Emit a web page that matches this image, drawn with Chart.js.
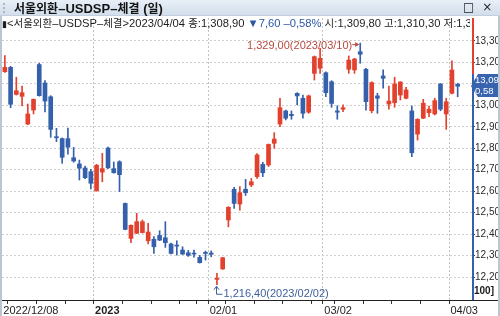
<!DOCTYPE html>
<html><head><meta charset="utf-8">
<script src="https://cdn.jsdelivr.net/npm/chart.js@4.4.0/dist/chart.umd.min.js"></script>
<style>
html,body{margin:0;padding:0;background:#fff;}
#wrap{position:relative;width:500px;height:316px;overflow:hidden;background:#fff;}
#c{position:absolute;left:0;top:0;}
#titlebar{position:absolute;left:0;top:0;width:500px;height:16px;background:linear-gradient(#e8eff7,#d2deeb);border-bottom:1px solid #c3cfdd;box-sizing:border-box;}
#grip{position:absolute;left:3px;top:3px;width:0;height:10px;border-left:2px dotted #aab6c6;}
#title{position:absolute;left:14px;top:0px;font:bold 13px "Liberation Sans",sans-serif;color:#141414;line-height:15px;white-space:nowrap;}
#icons{position:absolute;left:463px;top:0px;font:12px "DejaVu Sans",sans-serif;color:#222;line-height:15px;word-spacing:4px;}
.k{font-family:"Noto Sans CJK KR";font-size:10.5px;}
#title .k{font-size:12px;font-weight:bold;}
#hdr{position:absolute;left:2px;top:17px;width:468px;height:13px;overflow:hidden;white-space:nowrap;font:11.2px "Liberation Sans",sans-serif;line-height:12px;color:#1e1e1e;}
#hdr .b{color:#2b56a6;}
#hdr .bar{font-size:9px;}
#lb{position:absolute;left:0;top:16px;width:2px;height:300px;background:#bcc6d2;}
#rb{position:absolute;left:498px;top:16px;width:2px;height:300px;background:#bcc6d2;}
</style>
</head><body>
<div id="wrap">
<canvas id="c" width="500" height="316"></canvas>
<div id="titlebar"><div id="grip"></div><div id="title"><span class="k">서울외환</span>–USDSP–<span class="k">체결</span> (<span class="k">일</span>)</div><div id="icons">□ ×</div></div>
<div id="hdr"><span class="bar">▮</span>&lt;<span class="k">서울외환</span>–USDSP–<span class="k">체결</span>&gt;2023/04/04 <span class="k">종</span>:1,308,90 <span class="b">▼7,60 –0,58%</span> <span class="k">시</span>:1,309,80 <span class="k">고</span>:1,310,30 <span class="k">저</span>:1,304,00</div>
<div id="lb"></div><div id="rb"></div>
</div>
<script>
const dates = [
'2022/12/09','2022/12/12','2022/12/13','2022/12/14','2022/12/15','2022/12/16','2022/12/19','2022/12/20','2022/12/21','2022/12/22','2022/12/23','2022/12/26','2022/12/27','2022/12/28','2022/12/29','2022/12/30',
'2023/01/02','2023/01/03','2023/01/04','2023/01/05','2023/01/06','2023/01/09','2023/01/10','2023/01/11','2023/01/12','2023/01/13','2023/01/16','2023/01/17','2023/01/18','2023/01/19','2023/01/20','2023/01/25','2023/01/26','2023/01/27','2023/01/30','2023/01/31',
'2023/02/01','2023/02/02','2023/02/03','2023/02/06','2023/02/07','2023/02/08','2023/02/09','2023/02/10','2023/02/13','2023/02/14','2023/02/15','2023/02/16','2023/02/17','2023/02/20','2023/02/21','2023/02/22','2023/02/23','2023/02/24','2023/02/27','2023/02/28',
'2023/03/02','2023/03/03','2023/03/06','2023/03/07','2023/03/08','2023/03/09','2023/03/10','2023/03/13','2023/03/14','2023/03/15','2023/03/16','2023/03/17','2023/03/20','2023/03/21','2023/03/22','2023/03/23','2023/03/24','2023/03/27','2023/03/28','2023/03/29','2023/03/30','2023/03/31',
'2023/04/03','2023/04/04'];

const opens = [1315.7,1317.7,1305.1,1304.2,1291.3,1297.8,1319.0,1310.4,1304.0,1285.4,
1284.5,1284.5,1275.6,1272.7,1270.8,1269.1,1260.2,1268.9,1280.1,1270.5,
1273.7,1254.3,1238.0,1240.4,1240.7,1236.9,1237.6,1239.4,1238.3,1235.4,
1234.9,1232.6,1231.3,1231.0,1229.2,1231.5,1231.2,1218.9,1223.8,1246.6,
1260.9,1254.0,1260.9,1262.9,1266.8,1272.5,1272.2,1282.3,1291.3,1297.4,
1295.8,1305.6,1303.3,1296.8,1314.9,1317.3,1315.2,1311.0,1297.4,1298.2,
1316.8,1316.5,1325.0,1316.8,1297.5,1304.4,1313.7,1300.6,1301.2,1304.8,
1303.3,1297.4,1286.6,1294.0,1296.6,1296.0,1309.9,1296.0,1305.6,1309.8];

const highs = [1323.2,1318.2,1313.1,1309.0,1300.6,1303.0,1319.6,1311.5,1304.5,1289.3,
1284.8,1289.4,1280.4,1274.5,1271.7,1270.2,1272.5,1277.6,1280.5,1273.6,
1274.2,1254.5,1244.3,1249.7,1246.6,1245.0,1238.8,1241.6,1245.8,1235.8,
1236.9,1234.1,1232.4,1232.6,1230.1,1232.1,1232.2,1221.7,1229.2,1252.8,
1261.8,1262.1,1265.5,1266.0,1277.5,1273.5,1282.0,1287.3,1303.3,1297.8,
1297.4,1305.9,1304.8,1304.8,1323.0,1326.6,1315.6,1311.5,1299.8,1300.2,
1323.0,1321.9,1329.0,1317.3,1311.0,1305.6,1316.5,1309.0,1313.1,1311.0,
1308.4,1299.7,1293.8,1302.8,1299.7,1303.3,1310.2,1303.3,1320.8,1310.3];

const lows = [1315.3,1298.9,1304.8,1299.7,1291.0,1296.0,1304.3,1296.9,1285.1,1283.1,
1273.0,1277.3,1273.5,1265.2,1265.8,1261.1,1260.0,1264.4,1270.5,1268.4,
1259.8,1242.0,1236.0,1240.2,1240.5,1235.4,1231.0,1237.0,1233.8,1230.8,
1230.2,1230.5,1229.6,1229.2,1226.5,1227.9,1229.4,1216.4,1223.5,1243.4,
1252.0,1251.2,1258.0,1262.1,1266.0,1266.8,1271.5,1280.0,1290.1,1293.2,
1293.5,1300.2,1294.0,1296.3,1311.8,1314.9,1304.0,1299.1,1293.5,1297.0,
1314.9,1314.9,1319.6,1297.8,1296.5,1296.3,1308.0,1298.2,1299.1,1302.5,
1303.0,1276.1,1283.8,1293.8,1294.7,1295.5,1297.5,1288.8,1305.3,1304.0];

const closes = [1317.7,1300.5,1306.8,1305.9,1296.0,1302.8,1304.5,1302.0,1288.8,1284.9,
1275.8,1280.5,1274.1,1270.7,1266.3,1263.7,1272.1,1270.5,1270.9,1268.6,
1267.7,1242.2,1244.1,1245.8,1245.8,1241.0,1234.1,1237.2,1236.0,1231.0,
1234.4,1230.7,1230.1,1230.7,1226.7,1231.0,1230.6,1219.4,1229.0,1252.5,
1254.3,1259.3,1259.3,1264.4,1276.9,1268.6,1281.8,1284.3,1298.9,1294.0,
1295.2,1304.4,1296.3,1304.4,1322.7,1321.9,1305.9,1300.9,1296.8,1298.9,
1321.1,1321.6,1323.8,1301.7,1310.6,1303.3,1312.6,1302.0,1310.0,1310.9,
1307.2,1277.9,1293.5,1301.0,1298.2,1302.2,1298.2,1301.7,1316.5,1308.9];

const xTickIdx  = [0, 16, 36, 56, 78];
const xTickText = ['2022/12/08', '2023', '02/01', '03/02', '04/03'];
const weekStartIdx = [1,6,11,16,21,26,31,34,39,44,49,54,58,63,68,73,78];
const emptySlots = ['', ''];
const yMin = 1209.3, yMax = 1340.7, yStep = 10, yShowMin = 1220, yShowMax = 1330;

const UP = '#e2412e', DOWN = '#3560ab';
const colors = closes.map((c,i) => c >= opens[i] ? UP : DOWN);
const labels = dates.concat(emptySlots);

function fmtNum(v){ const p = v.toFixed(2).split('.'); return p[0].replace(/\B(?=(\d{3})+(?!\d))/g, ',') + ',' + p[1]; }
function fmtTick(v){ return (v/100).toFixed(2).replace('.', ','); }
const FONT = '"Liberation Sans",sans-serif';

const overlay = {
  id: 'overlay',
  afterDraw(chart){
    const {ctx, chartArea: ca, scales: {x, y}} = chart;
    ctx.save();
    ctx.fillStyle = '#222';
    ctx.fillRect(0, ca.bottom, 500, 1);
    const last = closes[closes.length-1], prev = closes[closes.length-2];
    const py = y.getPixelForValue(last);
    const boxTop = Math.round(py - 12), boxBot = Math.round(py + 11);
    ctx.fillStyle = UP;
    ctx.fillRect(ca.right, ca.top, 2, boxTop - ca.top);
    ctx.fillStyle = DOWN;
    ctx.fillRect(ca.right, boxTop, 2, ca.bottom - boxTop);
    ctx.fillStyle = '#3863ae';
    ctx.beginPath();
    ctx.moveTo(ca.right + 6, boxTop); ctx.lineTo(500, boxTop); ctx.lineTo(500, boxBot);
    ctx.lineTo(ca.right + 6, boxBot); ctx.lineTo(ca.right - 1, py); ctx.closePath(); ctx.fill();
    ctx.fillStyle = '#fff';
    ctx.font = '9.5px ' + FONT;
    ctx.textAlign = 'left'; ctx.textBaseline = 'middle';
    ctx.fillText(fmtTick(last), ca.right + 3, py - 5.5);
    const pct = Math.abs((last - prev) / prev * 100).toFixed(2).replace('.', ',');
    ctx.fillText(pct, ca.right + 3, py + 5.5);
    ctx.fillStyle = '#1a1a1a';
    ctx.font = 'bold 10px ' + FONT;
    ctx.fillText('100]', ca.right + 2, ca.bottom - 9);
    const hi = Math.max(...highs), hiIdx = highs.indexOf(hi);
    const hx = x.getPixelForValue(hiIdx), hy = y.getPixelForValue(hi);
    ctx.fillStyle = ctx.strokeStyle = '#b94a40';
    ctx.lineWidth = 1;
    ctx.font = '11px ' + FONT;
    ctx.textAlign = 'right';
    ctx.fillText(fmtNum(hi) + '(' + dates[hiIdx] + ')', hx - 8, hy + 3);
    ctx.beginPath(); ctx.moveTo(hx - 8, hy + 1.5); ctx.lineTo(hx - 2, hy + 1.5); ctx.stroke();
    ctx.beginPath(); ctx.moveTo(hx - 1, hy + 1.5); ctx.lineTo(hx - 5, hy - 1); ctx.lineTo(hx - 5, hy + 4); ctx.closePath(); ctx.fill();
    const lo = Math.min(...lows), loIdx = lows.indexOf(lo);
    const lx = Math.round(x.getPixelForValue(loIdx)) - 0.5, ly = y.getPixelForValue(lo);
    ctx.strokeStyle = ctx.fillStyle = '#3d5f9c';
    ctx.beginPath(); ctx.moveTo(lx, ly + 2); ctx.lineTo(lx, ly + 9.5); ctx.lineTo(lx + 6, ly + 9.5); ctx.stroke();
    ctx.beginPath(); ctx.moveTo(lx - 2.5, ly + 5); ctx.lineTo(lx, ly + 1.5); ctx.lineTo(lx + 2.5, ly + 5); ctx.stroke();
    ctx.textAlign = 'left';
    ctx.fillText(fmtNum(lo) + '(' + dates[loIdx] + ')', lx + 7, ly + 9);
    ctx.restore();
  }
};

new Chart(document.getElementById('c'), {
  type: 'bar',
  data: {
    labels: labels,
    datasets: [
      { label: 'body', data: opens.map((o,i) => [o, closes[i]]), backgroundColor: colors,
        barThickness: 4, grouped: false, minBarLength: 1, borderWidth: 0, order: 0 },
      { label: 'wick', data: lows.map((l,i) => [l, highs[i]]), backgroundColor: colors,
        barThickness: 1, grouped: false, borderWidth: 0, order: 1 }
    ]
  },
  options: {
    responsive: false, animation: false, devicePixelRatio: 1,
    layout: { padding: { top: 18, left: 2, right: 0, bottom: 0 } },
    plugins: { legend: { display: false }, tooltip: { enabled: false }, title: { display: false } },
    scales: {
      x: {
        type: 'category', offset: true,
        grid: {
          offset: true, lineWidth: 1, tickLength: 4,
          color: c => (xTickIdx.includes(c.index) && c.index > 0) ? '#c2c2c2' : 'rgba(0,0,0,0)',
          tickColor: c => (weekStartIdx.includes(c.index) || xTickIdx.includes(c.index)) ? '#333' : 'rgba(0,0,0,0)'
        },
        border: { display: false, dash: [2, 2] },
        ticks: {
          autoSkip: false, maxRotation: 0, minRotation: 0, align: 'start', labelOffset: -1.5, padding: 0,
          color: '#1e1e1e',
          font: c => ({ family: FONT, size: 11, weight: c.index === 16 ? 'bold' : 'normal' }),
          callback: (v, i) => { const k = xTickIdx.indexOf(i); return k >= 0 ? xTickText[k] : ''; }
        },
        afterFit: s => { s.height = 16; }
      },
      y: {
        position: 'right', min: yMin, max: yMax,
        grid: {
          lineWidth: 1, tickLength: 3,
          color: c => (c.tick && c.tick.value >= yShowMin && c.tick.value <= yShowMax) ? '#d0d0d0' : 'rgba(0,0,0,0)',
          tickColor: c => (c.tick && c.tick.value >= yShowMin && c.tick.value <= yShowMax) ? '#444' : 'rgba(0,0,0,0)'
        },
        border: { display: false, dash: [2, 2] },
        ticks: {
          stepSize: yStep, includeBounds: false, padding: 0, color: '#2a2a2a',
          font: { family: FONT, size: 10 },
          callback: v => (v >= yShowMin && v <= yShowMax) ? fmtTick(v) : ''
        },
        afterFit: s => { s.width = 28; }
      }
    }
  },
  plugins: [overlay]
});
</script>
</body></html>
